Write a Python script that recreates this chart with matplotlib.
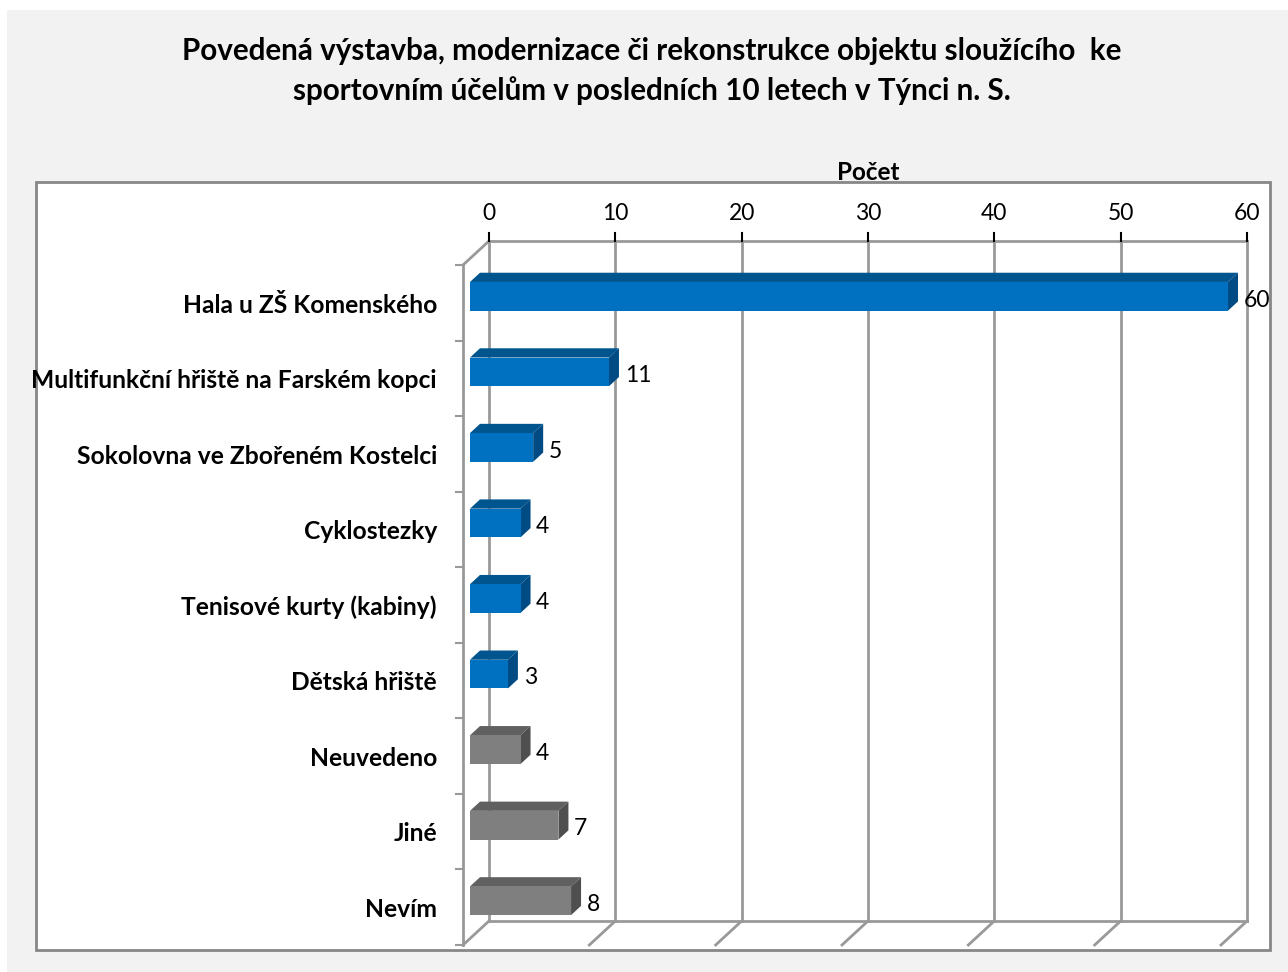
import numpy as np
import matplotlib
matplotlib.use('Agg')
import matplotlib.pyplot as plt
from matplotlib.patches import Polygon, Rectangle

plt.rcParams['font.family'] = ['Lato', 'DejaVu Sans']

categories = ['Hala u ZŠ Komenského', 'Multifunkční hřiště na Farském kopci',
	'Sokolovna ve Zbořeném Kostelci', 'Cyklostezky', 'Tenisové kurty (kabiny)',
	'Dětská hřiště', 'Neuvedeno', 'Jiné', 'Nevím']
values = [60, 11, 5, 4, 4, 3, 4, 7, 8]
is_gray = [False, False, False, False, False, False, True, True, True]
xticks = [0, 10, 20, 30, 40, 50, 60]
title = ('Povedená výstavba, modernizace či rekonstrukce objektu sloužícího  ke\n'
	'sportovním účelům v posledních 10 letech v Týnci n. S.')
axis_title = 'Počet'

W, H = 1288, 972
fig = plt.figure(figsize=(W / 100, H / 100), dpi=100)
fig.patch.set_facecolor('white')

#	gray chart area and white plot area, in pixel coords
def px(x, y):
	return x / W, 1 - y / H
fig.patches.append(Rectangle((7 / W, 0), 1, 1 - 10 / H, transform=fig.transFigure,
	facecolor='#f2f2f2', edgecolor='none', zorder=-2))
fig.patches.append(Rectangle(px(36, 950), (1270 - 36) / W, (950 - 182) / H,
	transform=fig.transFigure, facecolor='white', edgecolor='#878787', lw=2, zorder=-1))

# front plane of the 3d box
ax = fig.add_axes([463 / W, (H - 945) / H, 758 / W, 680 / H])
ax.set_zorder(2)
ax.set_xlim(0, 60)
ax.set_ylim(len(categories), 0)
ax.axis('off')

DX = 26 / (758 / 60)           # depth in x units
DY = 24 / (680 / len(categories))  # depth in category units
n = len(categories)
grid = '#999999'

# back wall gridlines
for t in xticks:
	ax.plot([t + DX, t + DX], [-DY, n - DY], color=grid, lw=2, clip_on=False, zorder=1)
	ax.plot([t, t + DX], [n, n - DY], color=grid, lw=2, clip_on=False, zorder=1)
	ax.plot([t + DX, t + DX], [-DY, -DY - 0.105], color='black', lw=1.5, clip_on=False, zorder=2)
	ax.text(t + DX, -DY - 0.36, str(t), ha='center', va='center', fontsize=16.5, clip_on=False)
ax.plot([DX, 60 + DX], [-DY, -DY], color=grid, lw=2, clip_on=False, zorder=1)
ax.plot([DX, 60 + DX], [n - DY, n - DY], color=grid, lw=2, clip_on=False, zorder=1)
# left side wall
ax.plot([0, 0], [0, n], color=grid, lw=2, clip_on=False, zorder=1)
ax.plot([0, DX], [0, -DY], color=grid, lw=2, clip_on=False, zorder=1)
for i in range(n + 1):
	ax.plot([-0.55, 0], [i, i], color=grid, lw=1.5, clip_on=False, zorder=1)

ax.text(30 + DX, -DY - 0.9, axis_title, ha='center', va='center', fontsize=17.5,
	fontweight='bold', clip_on=False)

# 3d bars
f0, f1 = 7 / 26, 17 / 26
hh = 0.19
for i, (v, g) in enumerate(zip(values, is_gray)):
	front, top, side = ('#7f7f7f', '#606060', '#4f4f4f') if g else ('#0070c0', '#00558f', '#004b84')
	x0, y0 = DX * f0, i + 0.5 - DY * f0
	x1, y1 = DX * f1, i + 0.5 - DY * f1
	ax.add_patch(Polygon([(x0, y0 - hh), (x0 + v, y0 - hh), (x1 + v, y1 - hh), (x1, y1 - hh)],
		closed=True, facecolor=top, edgecolor='none', clip_on=False, zorder=3))
	ax.add_patch(Polygon([(x0 + v, y0 - hh), (x0 + v, y0 + hh), (x1 + v, y1 + hh), (x1 + v, y1 - hh)],
		closed=True, facecolor=side, edgecolor='none', clip_on=False, zorder=3))
	ax.add_patch(Rectangle((x0, y0 - hh), v, 2 * hh, facecolor=front, edgecolor='none',
		clip_on=False, zorder=4))
	ax.text(x1 + v + 0.45, y0 + 0.05, str(v), ha='left', va='center', fontsize=16.5,
		clip_on=False, zorder=5)
	ax.text(-2.06, i + 0.53, categories[i], ha='right', va='center', fontsize=17.7,
		fontweight='bold', clip_on=False)

fig.text(652 / W, 1 - 71 / H, title, ha='center', va='center', fontsize=21.3,
	fontweight='bold', linespacing=1.5)

plt.savefig('out.png', dpi=100)
